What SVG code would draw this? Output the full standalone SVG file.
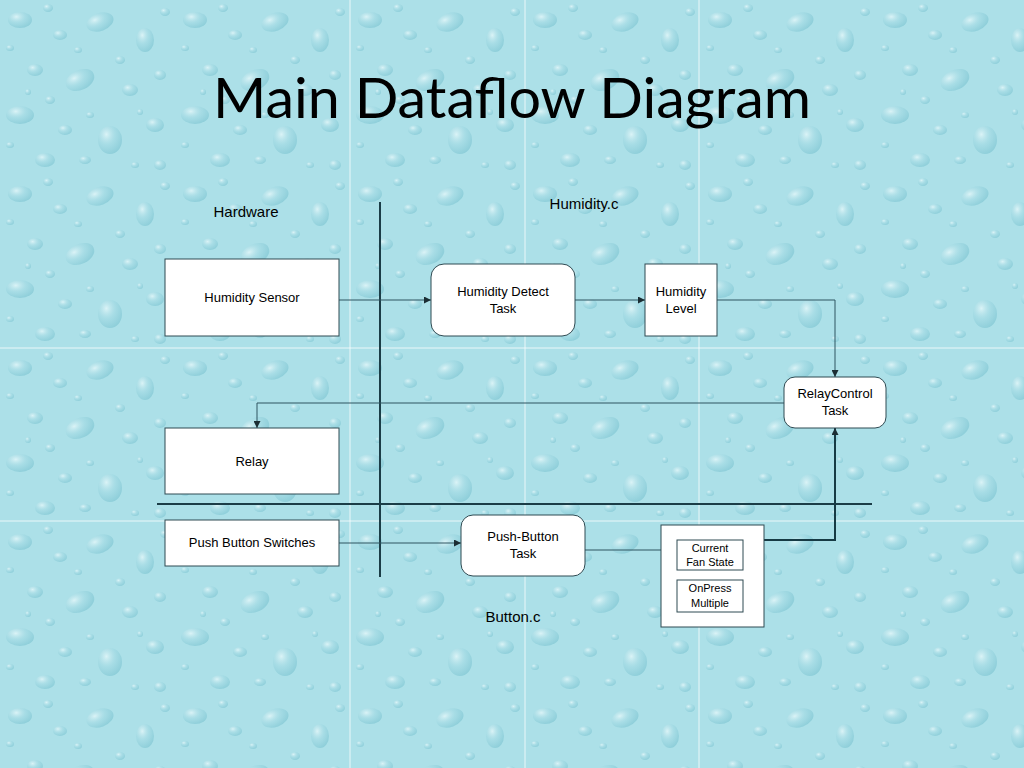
<svg xmlns="http://www.w3.org/2000/svg" width="1024" height="768" viewBox="0 0 1024 768">
<defs>
<style>
.box{fill:#fff;stroke:#2f4a52;stroke-width:1}
.t{font-family:"Liberation Sans",Arial,sans-serif;font-size:13px;fill:#000;text-anchor:middle}
.s{font-family:"Liberation Sans",Arial,sans-serif;font-size:11px;fill:#000;text-anchor:middle}
.lbl{font-family:"Liberation Sans",Arial,sans-serif;font-size:15px;fill:#000;text-anchor:middle}
.c{fill:none;stroke:#2f5560;stroke-width:1}
.ct{fill:none;stroke:#163a44;stroke-width:2}
.div{fill:none;stroke:#1b3d47;stroke-width:2}
.tile{stroke:#ffffff;stroke-opacity:0.75;stroke-width:1}
</style>
<marker id="ah" viewBox="0 0 10 10" refX="10" refY="5" markerWidth="7" markerHeight="7" markerUnits="userSpaceOnUse" orient="auto">
<path d="M0,0 L10,5 L0,10 z" fill="#1b2d33"/>
</marker>
<radialGradient id="drop" cx="0.35" cy="0.3" r="0.75">
<stop offset="0" stop-color="#e6f8fa" stop-opacity="0.8"/>
<stop offset="0.5" stop-color="#a0d8e2" stop-opacity="0.5"/>
<stop offset="1" stop-color="#74bfcd" stop-opacity="0.55"/>
</radialGradient>
<pattern id="water" x="0" y="0" width="175" height="174" patternUnits="userSpaceOnUse">
<rect width="175" height="174" fill="#ace0e8"/>
<g fill="url(#drop)">
<ellipse cx="20" cy="20" rx="12" ry="8"/>
<ellipse cx="48" cy="8" rx="5" ry="4"/>
<ellipse cx="60" cy="35" rx="7" ry="5"/>
<ellipse cx="100" cy="22" rx="14" ry="9" transform="rotate(-20 100 22)"/>
<ellipse cx="145" cy="40" rx="9" ry="12"/>
<ellipse cx="165" cy="12" rx="5" ry="4"/>
<ellipse cx="10" cy="48" rx="4" ry="3"/>
<ellipse cx="35" cy="70" rx="8" ry="6"/>
<ellipse cx="80" cy="80" rx="15" ry="10" transform="rotate(-25 80 80)"/>
<ellipse cx="130" cy="90" rx="8" ry="6"/>
<ellipse cx="160" cy="75" rx="6" ry="5"/>
<ellipse cx="20" cy="115" rx="14" ry="9"/>
<ellipse cx="65" cy="130" rx="7" ry="5"/>
<ellipse cx="110" cy="140" rx="12" ry="14"/>
<ellipse cx="155" cy="125" rx="9" ry="7"/>
<ellipse cx="45" cy="160" rx="10" ry="7"/>
<ellipse cx="160" cy="165" rx="6" ry="5"/>
<ellipse cx="120" cy="60" rx="5" ry="4"/>
<ellipse cx="50" cy="100" rx="5" ry="4"/>
<ellipse cx="90" cy="115" rx="4" ry="3"/>
<ellipse cx="10" cy="145" rx="4" ry="3"/>
<ellipse cx="85" cy="160" rx="6" ry="4"/>
<ellipse cx="135" cy="165" rx="4" ry="3"/>
<ellipse cx="78" cy="50" rx="4" ry="3"/>
<ellipse cx="28" cy="92" rx="3" ry="3"/>
<ellipse cx="140" cy="112" rx="3" ry="3"/>
</g>
</pattern>
</defs>
<rect width="1024" height="768" fill="url(#water)"/>
<g id="tiles">
<line class="tile" x1="350" y1="0" x2="350" y2="768"/>
<line class="tile" x1="525" y1="0" x2="525" y2="768"/>
<line class="tile" x1="699" y1="0" x2="699" y2="768"/>
<line class="tile" x1="0" y1="348" x2="1024" y2="348"/>
<line class="tile" x1="0" y1="521" x2="1024" y2="521"/>
</g>
<text id="title" x="512" y="118" font-family="Lato,'Open Sans',sans-serif" font-size="56" text-anchor="middle" textLength="598" lengthAdjust="spacingAndGlyphs" fill="#000">Main Dataflow Diagram</text>
<g id="labels">
<text class="lbl" x="246" y="217">Hardware</text>
<text class="lbl" x="584" y="209">Humidity.c</text>
<text class="lbl" x="513" y="622">Button.c</text>
</g>
<g id="dividers">
<line class="div" x1="380" y1="202" x2="380" y2="577"/>
<line class="div" x1="157" y1="504" x2="872" y2="504"/>
</g>
<g id="connectors">
<line class="c" x1="339" y1="300" x2="431" y2="300" marker-end="url(#ah)"/>
<line class="c" x1="575" y1="300" x2="645" y2="300" marker-end="url(#ah)"/>
<polyline class="c" points="717,300 835,300 835,377" marker-end="url(#ah)"/>
<polyline class="c" points="784,403 257,403 257,428" marker-end="url(#ah)"/>
<line class="c" x1="339" y1="543" x2="461" y2="543" marker-end="url(#ah)"/>
<line class="c" x1="585" y1="550" x2="661" y2="550"/>
<polyline class="ct" points="764,540 835,540 835,428" marker-end="url(#ah)"/>
</g>
<g id="humidity-sensor">
<rect class="box" x="165" y="259" width="174" height="77"/>
<text class="t" x="252" y="302">Humidity Sensor</text>
</g>
<g id="humidity-detect-task">
<rect class="box" x="431" y="264" width="144" height="72" rx="13"/>
<text class="t" x="503" y="296">Humidity Detect</text>
<text class="t" x="503" y="313">Task</text>
</g>
<g id="humidity-level">
<rect class="box" x="645" y="264" width="72" height="72"/>
<text class="t" x="681" y="296">Humidity</text>
<text class="t" x="681" y="313">Level</text>
</g>
<g id="relaycontrol-task">
<rect class="box" x="784" y="377" width="102" height="51" rx="11"/>
<text class="t" x="835" y="398">RelayControl</text>
<text class="t" x="835" y="415">Task</text>
</g>
<g id="relay">
<rect class="box" x="165" y="428" width="174" height="66"/>
<text class="t" x="252" y="466">Relay</text>
</g>
<g id="push-button-switches">
<rect class="box" x="165" y="520" width="174" height="46"/>
<text class="t" x="252" y="547">Push Button Switches</text>
</g>
<g id="push-button-task">
<rect class="box" x="461" y="515" width="124" height="61" rx="12"/>
<text class="t" x="523" y="541">Push-Button</text>
<text class="t" x="523" y="558">Task</text>
</g>
<g id="button-data">
<rect class="box" x="661" y="525" width="103" height="102"/>
</g>
<g id="current-fan-state">
<rect class="box" x="677" y="540" width="66" height="30"/>
<text class="s" x="710" y="552">Current</text>
<text class="s" x="710" y="566">Fan State</text>
</g>
<g id="onpress-multiple">
<rect class="box" x="677" y="580" width="66" height="32"/>
<text class="s" x="710" y="592">OnPress</text>
<text class="s" x="710" y="607">Multiple</text>
</g>
</svg>
